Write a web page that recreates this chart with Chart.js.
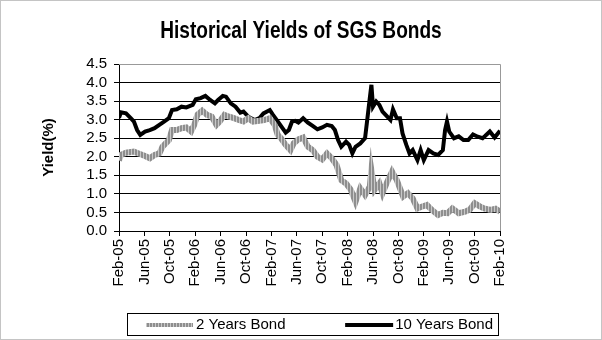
<!DOCTYPE html>
<html>
<head>
<meta charset="utf-8">
<script src="https://cdn.jsdelivr.net/npm/chart.js@4.4.0/dist/chart.umd.min.js"></script>
<style>
  html, body { margin: 0; padding: 0; background: #fff; }
  #wrap { width: 602px; height: 340px; }
</style>
</head>
<body>
<div id="wrap"><canvas id="yieldChart" width="602" height="340"></canvas></div>
<script>
// x values are months counted from Feb-05 (0) up to Feb-10 (60)
const tickLabels = ['Feb-05', 'Jun-05', 'Oct-05', 'Feb-06', 'Jun-06', 'Oct-06', 'Feb-07', 'Jun-07',
  'Oct-07', 'Feb-08', 'Jun-08', 'Oct-08', 'Feb-09', 'Jun-09', 'Oct-09', 'Feb-10'];
const yTickValues = [0, 0.5, 1, 1.5, 2, 2.5, 3, 3.5, 4, 4.5];

const twoYearMonths = [0, 0.3, 1.1, 2.35, 3.1, 4.1, 4.85, 5.6, 6.35, 6.85, 7.35, 7.85, 8.35, 9.1, 9.85,
  10.6, 11.35, 11.85, 12.35, 13.1, 13.85, 14.6, 15.35, 15.85, 16.6, 17.35, 18.1, 18.85, 19.6, 20.35,
  21.1, 22.1, 22.85, 23.75, 24.5, 25, 25.5, 26.25, 27, 27.5, 28.25, 29, 29.75, 30.5, 31.25, 32, 32.75,
  33.5, 34.25, 35, 35.75, 36.5, 37.25, 38, 38.75, 39.5, 39.75, 40.25, 41, 41.5, 42.25, 43, 43.75,
  44.75, 45.5, 46.25, 47, 47.75, 48.5, 49.25, 50.25, 51, 51.75, 52.5, 53.5, 54.5, 55.25, 56, 56.75,
  57.5, 58.5, 59.3, 60];
const twoYearYields = [1.9, 2.05, 2.11, 2.14, 2.09, 2.02, 1.96, 2.05, 2.09, 2.27, 2.36, 2.45, 2.72, 2.72, 2.77,
  2.79, 2.68, 2.86, 3.13, 3.24, 3.13, 3.08, 2.86, 2.95, 3.13, 3.08, 3.04, 2.99, 2.95, 3.04,
  2.95, 2.97, 2.99, 3.04, 2.86, 2.59, 2.5, 2.32, 2.18, 2.36, 2.47, 2.52, 2.27, 2.18, 2.0, 1.93, 2.09,
  1.96, 1.78, 1.37, 1.28, 1.11, 0.79, 1.15, 0.97, 1.2, 1.64, 1.11, 1.28, 1.02, 1.33, 1.6, 1.37,
  0.93, 1.02, 0.88, 0.61, 0.66, 0.7, 0.57, 0.43, 0.49, 0.48, 0.61, 0.48, 0.52, 0.58, 0.75, 0.67,
  0.61, 0.57, 0.6, 0.52];

const tenYearMonths = [0, 0.3, 1.1, 1.85, 2.35, 2.85, 3.35, 4.1, 4.85, 5.6, 6.35, 7.1, 7.85, 8.35, 9.1,
  9.85, 10.6, 11.6, 12.1, 12.85, 13.6, 14.35, 15.1, 15.6, 16.35, 16.85, 17.6, 18.35, 19.1, 19.6,
  20.35, 21.35, 22.1, 22.75, 23.75, 24.25, 25, 25.75, 26.25, 26.75, 27.25, 27.75, 28.25, 29, 29.75,
  30.5, 31.25, 32, 32.75, 33.5, 34, 34.5, 35, 35.75, 36.25, 36.75, 37.25, 38, 38.75, 39.15, 39.4,
  39.75, 40, 40.5, 41, 41.5, 42.25, 42.75, 43.15, 43.75, 44.25, 44.65, 45.25, 45.75, 46.25, 47,
  47.5, 48, 48.75, 49.5, 50.25, 51, 51.35, 51.65, 52, 52.75, 53.5, 54.25, 55, 55.75, 56.5, 57.25,
  57.65, 58.4, 59.15, 60];
const tenYearYields = [3.05, 3.2, 3.17, 3.04, 2.95, 2.72, 2.59, 2.68, 2.72, 2.77, 2.86, 2.95, 3.04, 3.26, 3.28,
  3.35, 3.33, 3.4, 3.55, 3.58, 3.64, 3.53, 3.44, 3.53, 3.64, 3.62, 3.44, 3.35, 3.19, 3.22,
  3.08, 2.99, 3.04, 3.17, 3.26, 3.13, 2.95, 2.77, 2.65, 2.72, 2.95, 2.97, 2.92, 3.04, 2.92,
  2.83, 2.74, 2.79, 2.86, 2.83, 2.72, 2.45, 2.27, 2.41, 2.32, 2.09, 2.27, 2.36, 2.5, 3.08, 3.44,
  3.94, 3.35, 3.49, 3.4, 3.22, 3.08, 2.99, 3.28, 3.04, 3.04, 2.63, 2.32, 2.09, 2.18, 1.91,
  2.18, 1.91, 2.18, 2.09, 2.05, 2.18, 2.72, 2.95, 2.68, 2.5, 2.55, 2.45, 2.45, 2.6, 2.54, 2.5,
  2.56, 2.68, 2.52, 2.7];

const toPoints = (xs, ys) => xs.map((x, i) => ({ x: x, y: ys[i] }));

const FONT = "'Liberation Sans', Arial, sans-serif";

// striped grey fill for the 2-year line (vertical hatching like the original)
function stripePattern() {
  const c = document.createElement('canvas');
  c.width = 3; c.height = 1;
  const g = c.getContext('2d');
  g.fillStyle = '#8e8e8e'; g.fillRect(0, 0, 2, 1);
  g.fillStyle = '#c8c8c8'; g.fillRect(2, 0, 1, 1);
  return g.createPattern(c, 'repeat');
}
const grayStripes = stripePattern();

// frame, plot border, title and boxed legend like the spreadsheet chart
const decorations = {
  id: 'decorations',
  beforeDatasetsDraw(chart) {
    const { ctx, chartArea: a } = chart;
    ctx.save();
    ctx.strokeStyle = '#999';
    ctx.lineWidth = 1;
    ctx.beginPath();
    ctx.moveTo(a.left, Math.round(a.top) + 0.5);
    ctx.lineTo(Math.round(a.right) + 0.5, Math.round(a.top) + 0.5);
    ctx.lineTo(Math.round(a.right) + 0.5, a.bottom);
    ctx.stroke();
    ctx.restore();
  },
  afterDraw(chart) {
    const { ctx } = chart;
    ctx.save();
    // dotted outer frame
    ctx.strokeStyle = '#888';
    ctx.setLineDash([1, 1]);
    ctx.strokeRect(0.5, 0.5, chart.width - 1, chart.height - 1);
    ctx.setLineDash([]);

    // title, bold and squeezed like a narrow face
    ctx.save();
    ctx.fillStyle = '#000';
    ctx.font = 'bold 23px ' + FONT;
    ctx.textAlign = 'center';
    ctx.textBaseline = 'middle';
    ctx.translate(chart.width / 2, 32);
    ctx.scale(0.83, 1);
    ctx.fillText('Historical Yields of SGS Bonds', 0, 0);
    ctx.restore();

    // legend
    ctx.fillStyle = '#000';
    ctx.textBaseline = 'middle';
    ctx.strokeStyle = '#000';
    ctx.lineWidth = 1;
    ctx.strokeRect(127.5, 313.5, 371, 22);
    ctx.font = '15px ' + FONT;
    ctx.textAlign = 'left';
    const ly = 325;
    const ds = chart.data.datasets;
    ctx.fillStyle = ds[0].borderColor;
    ctx.fillRect(146, ly - 2, 47, 4);
    ctx.fillStyle = '#000';
    ctx.fillText(ds[0].label, 196, ly);
    const w2 = ctx.measureText(ds[1].label).width;
    const t2 = 493 - w2;
    ctx.strokeStyle = ds[1].borderColor;
    ctx.lineWidth = ds[1].borderWidth;
    ctx.beginPath(); ctx.moveTo(t2 - 50, ly); ctx.lineTo(t2 - 2, ly); ctx.stroke();
    ctx.fillText(ds[1].label, t2, ly);
    ctx.restore();
  }
};

new Chart(document.getElementById('yieldChart'), {
  type: 'line',
  data: {
    datasets: [{
      label: '2 Years Bond',
      data: toPoints(twoYearMonths, twoYearYields),
      borderColor: grayStripes,
      borderWidth: 6,
      pointRadius: 0,
      tension: 0
    }, {
      label: '10 Years Bond',
      data: toPoints(tenYearMonths, tenYearYields),
      borderColor: '#000000',
      borderWidth: 4,
      pointRadius: 0,
      tension: 0
    }]
  },
  options: {
    responsive: false,
    animation: false,
    layout: { padding: { left: 40, right: 102, top: 64, bottom: 49 } },
    plugins: {
      legend: { display: false },
      title: { display: false },
      tooltip: { enabled: false }
    },
    scales: {
      x: {
        type: 'linear',
        min: 0,
        max: 60,
        afterFit: s => { s.height = 60; },
        afterBuildTicks: s => { s.ticks = tickLabels.map((l, i) => ({ value: i * 4 })); },
        ticks: {
          autoSkip: false,
          minRotation: 90,
          maxRotation: 90,
          padding: 3,
          color: '#000',
          font: { family: FONT, size: 15 },
          callback: v => tickLabels[Math.round(v / 4)]
        },
        grid: { drawOnChartArea: false, drawTicks: true, tickLength: 5, color: '#000' },
        border: { color: '#000', width: 1 }
      },
      y: {
        min: 0,
        max: 4.5,
        afterFit: s => { s.width = 79; },
        afterBuildTicks: s => { s.ticks = yTickValues.map(v => ({ value: v })); },
        ticks: {
          autoSkip: false,
          padding: 7,
          color: '#000',
          font: { family: FONT, size: 15, lineHeight: 1 },
          callback: v => v.toFixed(1)
        },
        grid: { color: '#000', tickLength: 5 },
        border: { color: '#000', width: 1 },
        title: {
          display: true,
          text: 'Yield(%)',
          color: '#000',
          padding: 0,
          font: { family: FONT, size: 15, weight: 'bold' }
        }
      }
    }
  },
  plugins: [decorations]
});
</script>
</body>
</html>
